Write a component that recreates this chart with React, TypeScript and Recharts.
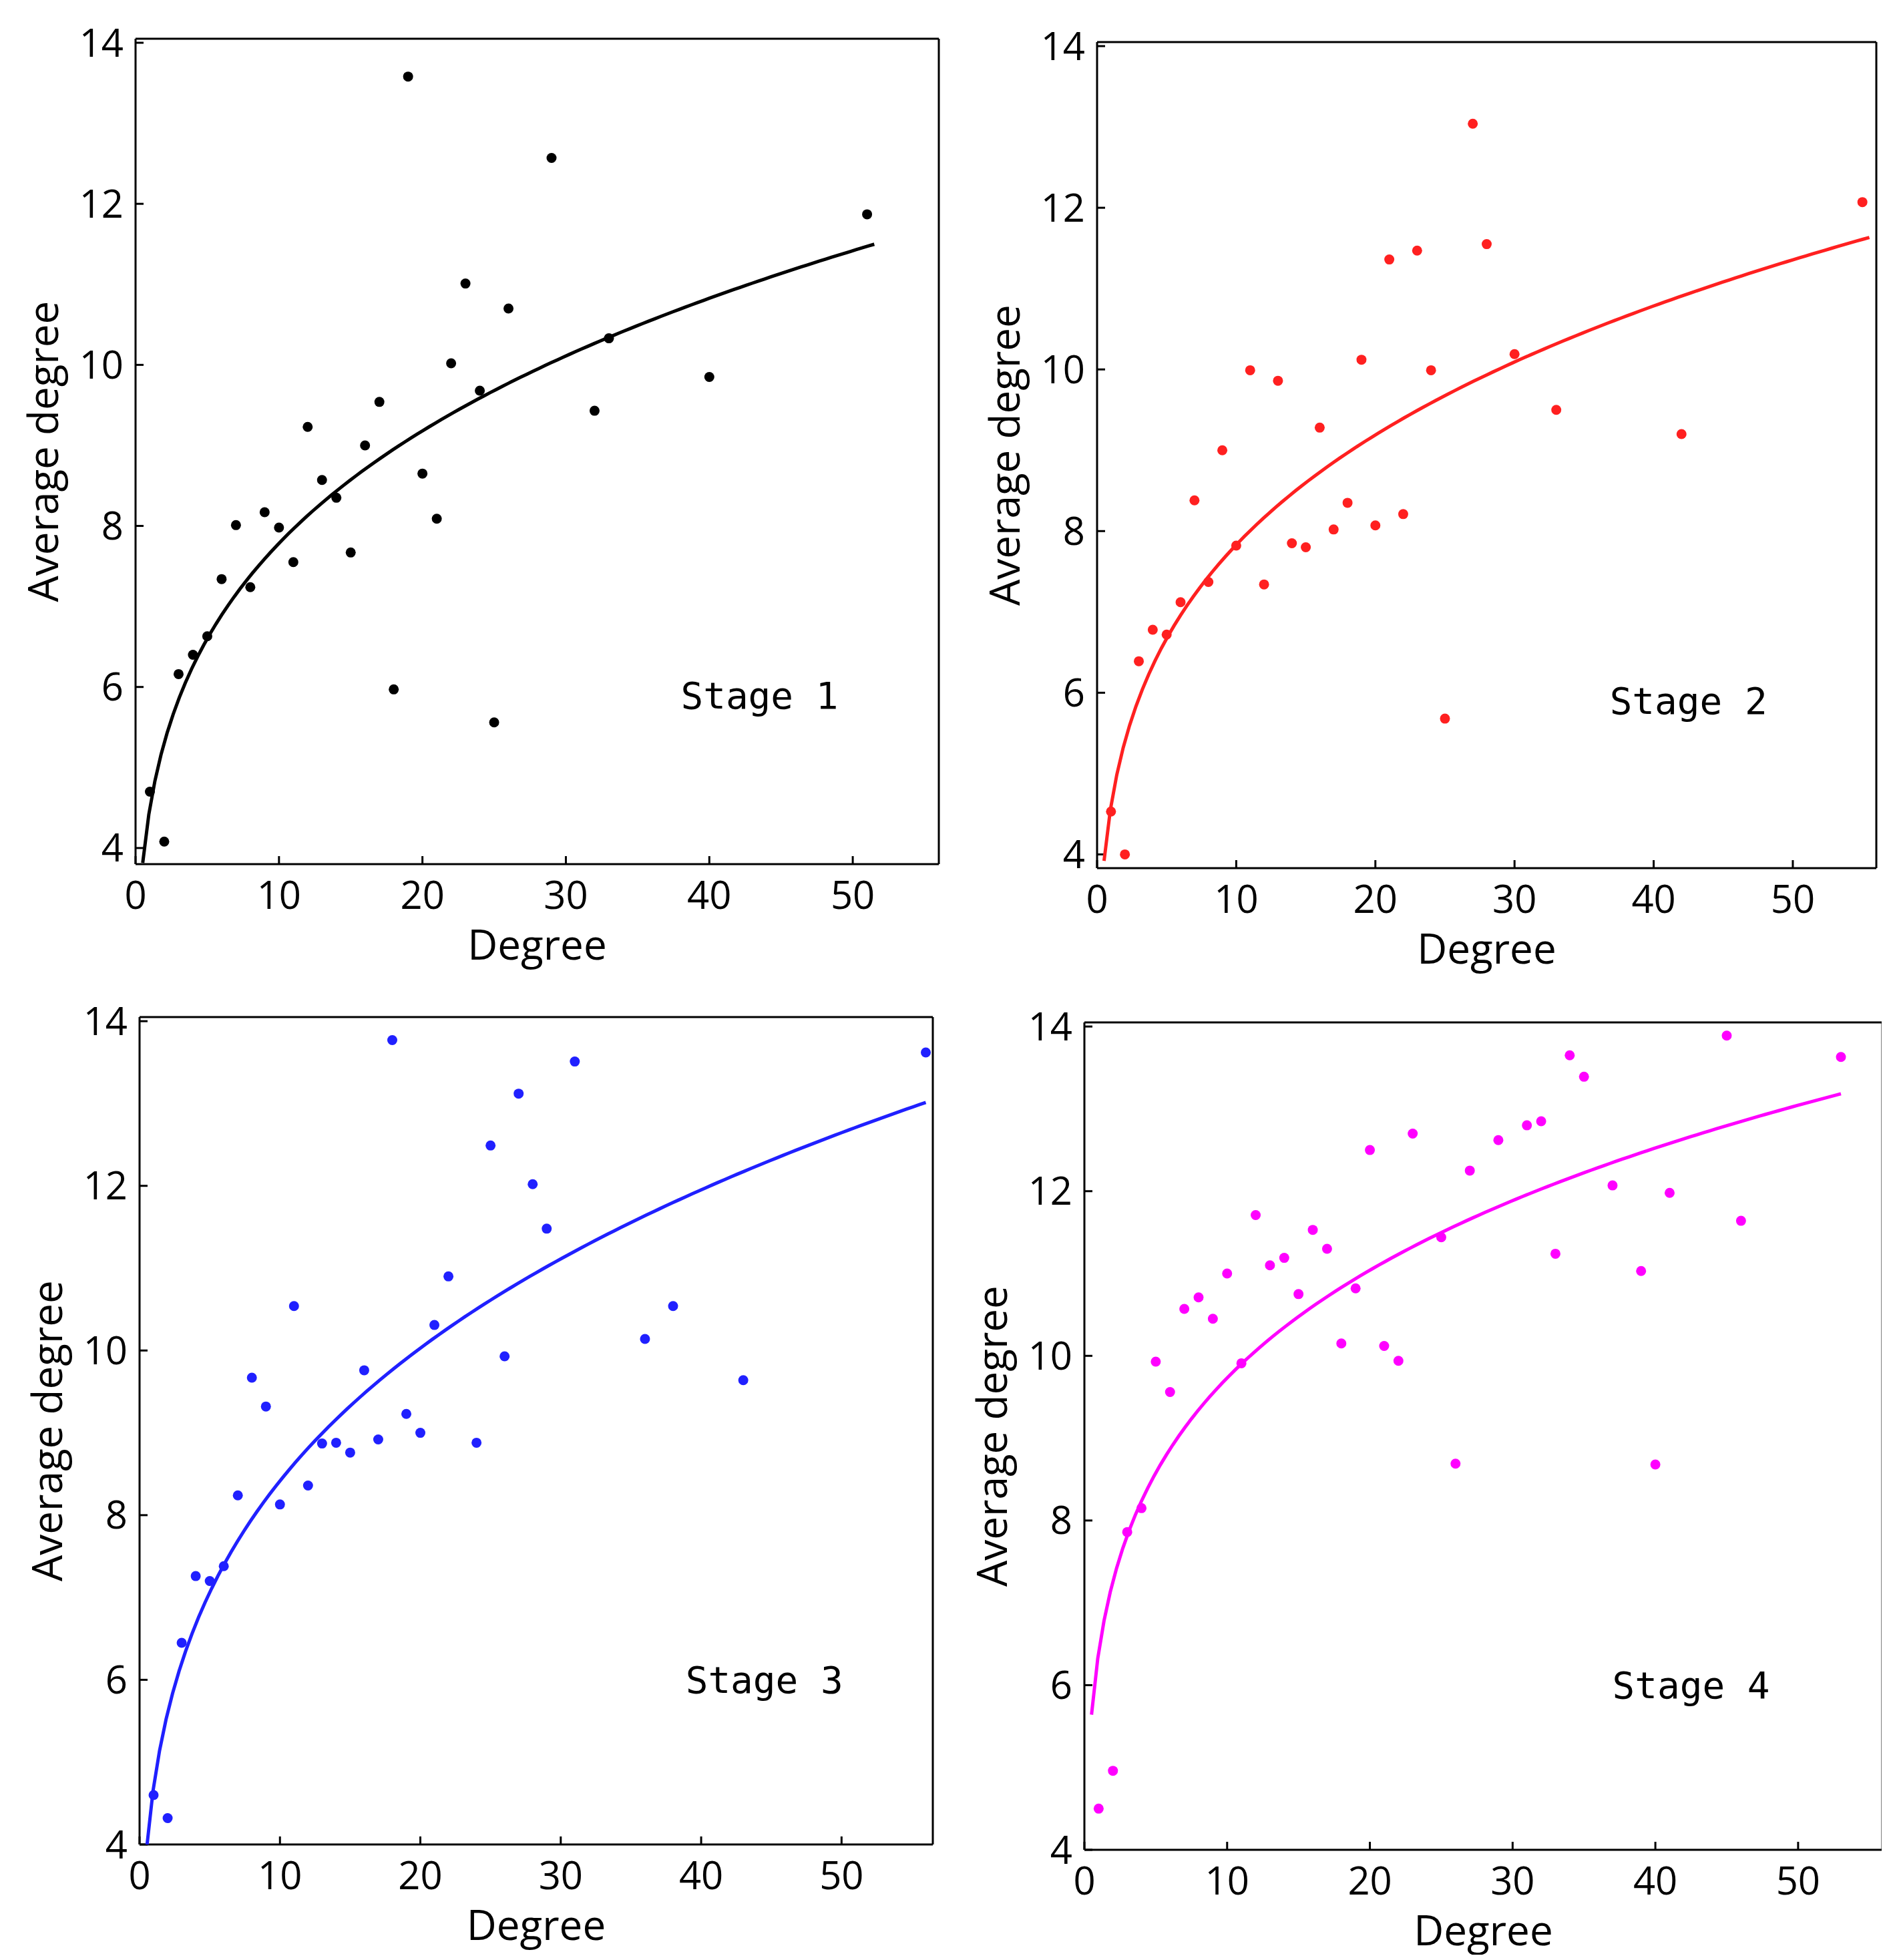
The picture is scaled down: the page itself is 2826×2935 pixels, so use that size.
import { ScatterChart, Scatter, XAxis, YAxis, ReferenceDot } from "recharts";

const degree1 = [1, 2, 3, 4, 5, 6, 7, 8, 9, 10, 11, 12, 13, 14, 15, 16, 17, 18, 19, 20, 21, 22, 23, 24, 25, 26, 29, 32, 33, 40, 51];
const avg1 = [4.7, 4.08, 6.16, 6.4, 6.63, 7.34, 8.01, 7.24, 8.17, 7.98, 7.55, 9.23, 8.57, 8.35, 7.67, 9.0, 9.54, 5.97, 13.58, 8.65, 8.09, 10.02, 11.01, 9.68, 5.56, 10.7, 12.57, 9.43, 10.33, 9.85, 11.87];

const degree2 = [1, 2, 3, 4, 5, 6, 7, 8, 9, 10, 11, 12, 13, 14, 15, 16, 17, 18, 19, 20, 21, 22, 23, 24, 25, 27, 28, 30, 33, 42, 55];
const avg2 = [4.53, 4.0, 6.39, 6.78, 6.72, 7.12, 8.38, 7.37, 9.0, 7.82, 9.99, 7.34, 9.86, 7.85, 7.8, 9.28, 8.02, 8.35, 10.12, 8.07, 11.36, 8.21, 11.47, 9.99, 5.68, 13.04, 11.55, 10.19, 9.5, 9.2, 12.07];

const degree3 = [1, 2, 3, 4, 5, 6, 7, 8, 9, 10, 11, 12, 13, 14, 15, 16, 17, 18, 19, 20, 21, 22, 24, 25, 26, 27, 28, 29, 31, 36, 38, 43, 56];
const avg3 = [4.6, 4.32, 6.45, 7.26, 7.2, 7.38, 8.24, 9.67, 9.32, 8.13, 10.54, 8.36, 8.87, 8.88, 8.76, 9.76, 8.92, 13.77, 9.23, 9.0, 10.31, 10.9, 8.88, 12.49, 9.93, 13.12, 12.02, 11.48, 13.51, 10.14, 10.54, 9.64, 13.62];

const degree4 = [1, 2, 3, 4, 5, 6, 7, 8, 9, 10, 11, 12, 13, 14, 15, 16, 17, 18, 19, 20, 21, 22, 23, 25, 26, 27, 29, 31, 32, 33, 34, 35, 37, 39, 40, 41, 45, 46, 53];
const avg4 = [4.5, 4.96, 7.86, 8.15, 9.93, 9.56, 10.57, 10.71, 10.45, 11.0, 9.91, 11.71, 11.1, 11.19, 10.75, 11.53, 11.3, 10.15, 10.82, 12.5, 10.12, 9.94, 12.7, 11.44, 8.69, 12.25, 12.62, 12.8, 12.85, 11.24, 13.65, 13.39, 12.07, 11.03, 8.68, 11.98, 13.89, 11.64, 13.63];

// power-law fits y = a * x^p, drawn from x0 to x1
const fitA = [4.5, 4.6, 4.7, 6.4];
const fitP = [0.238, 0.231, 0.253, 0.182];
const fitRange = [[0.5, 51.5], [0.5, 55.5], [0.5, 56], [0.5, 53]];

const xTicks = [0, 10, 20, 30, 40, 50];
const yTicks = [4, 6, 8, 10, 12, 14];
const stages = ["Stage 1", "Stage 2", "Stage 3", "Stage 4"];
const colors = ["#000000", "#ff2020", "#2020ff", "#ff00ff"];

const zip = (xs: number[], ys: number[]) => xs.map((x, i) => ({ x, y: ys[i] }));

function curve(i: number) {
  const [x0, x1] = fitRange[i];
  const pts = [];
  for (let k = 0; k <= 120; k++) {
    const x = x0 + ((x1 - x0) * k) / 120;
    pts.push({ x, y: fitA[i] * Math.pow(x, fitP[i]) });
  }
  return pts;
}

const FONT = "'Open Sans', sans-serif";
const YW = 200;
const XH = 165;
const TOP = 40;

interface PanelProps {
  idx: number;
  data: { x: number; y: number }[];
  box: [number, number, number, number];
  xMax: number;
  yMin: number;
  stagePos: [number, number];
}

function Panel({ idx, data, box, xMax, yMin, stagePos }: PanelProps) {
  const [l, t, r, b] = box;
  const w = r - l + YW + 10;
  const h = b - t + XH + TOP;
  const tick = { fill: "#000", fontSize: 58, fontFamily: FONT };
  return (
    <div style={{ position: "absolute", left: l - YW, top: t - TOP }}>
      <ScatterChart width={w} height={h} margin={{ top: TOP, right: 10, left: 0, bottom: 0 }}>
        <XAxis type="number" dataKey="x" domain={[0, xMax]} ticks={xTicks} allowDataOverflow
          stroke="#000" strokeWidth={3} tick={tick} tickSize={-12} tickMargin={38} height={XH}
          label={{ value: "Degree", position: "insideBottom", offset: 22, fontSize: 62, fontFamily: FONT, fill: "#000" }} />
        <XAxis xAxisId="top" orientation="top" type="number" dataKey="x" domain={[0, xMax]} ticks={xTicks} allowDataOverflow
          stroke="#000" strokeWidth={3} tick={false} tickSize={-12} height={1} />
        <YAxis type="number" dataKey="y" domain={[yMin, 14.05]} ticks={yTicks} allowDataOverflow
          stroke="#000" strokeWidth={3} tick={tick} tickSize={-12} tickMargin={30} width={YW}
          label={{ value: "Average degree", angle: -90, position: "insideLeft", offset: 62, fontSize: 62, fontFamily: FONT, fill: "#000", style: { textAnchor: "middle" } }} />
        <YAxis yAxisId="right" orientation="right" type="number" dataKey="y" domain={[yMin, 14.05]} ticks={yTicks} allowDataOverflow
          stroke="#000" strokeWidth={3} tick={false} tickSize={-12} width={1} />
        <Scatter xAxisId="top" yAxisId="right" data={data} shape={() => null} isAnimationActive={false} />
        <Scatter data={curve(idx)} fill="none" line={{ stroke: colors[idx], strokeWidth: 5 }} shape={() => null} isAnimationActive={false} />
        <Scatter data={data} fill={colors[idx]} isAnimationActive={false}
          shape={(p: any) => <circle cx={p.cx} cy={p.cy} r={7.5} fill={colors[idx]} />} />
        <ReferenceDot x={stagePos[0]} y={stagePos[1]} r={0}
          label={{ value: stages[idx], position: "center", fontSize: 56, fontFamily: "'DejaVu Sans Mono', monospace", fill: "#000" }} />
      </ScatterChart>
    </div>
  );
}

export default function App() {
  return (
    <div style={{ position: "relative", width: 2826, height: 2935, margin: -8, background: "#fff", overflow: "hidden" }}>
      <Panel idx={0} data={zip(degree1, avg1)} box={[203, 57, 1407, 1294]} xMax={56} yMin={3.8} stagePos={[43.5, 5.9]} />
      <Panel idx={1} data={zip(degree2, avg2)} box={[1643, 62, 2811, 1300]} xMax={56} yMin={3.83} stagePos={[42.5, 5.9]} />
      <Panel idx={2} data={zip(degree3, avg3)} box={[209, 1522, 1398, 2762]} xMax={56.5} yMin={4} stagePos={[44.5, 6.0]} />
      <Panel idx={3} data={zip(degree4, avg4)} box={[1624, 1530, 2820, 2770]} xMax={55.9} yMin={4} stagePos={[42.5, 6.0]} />
    </div>
  );
}
